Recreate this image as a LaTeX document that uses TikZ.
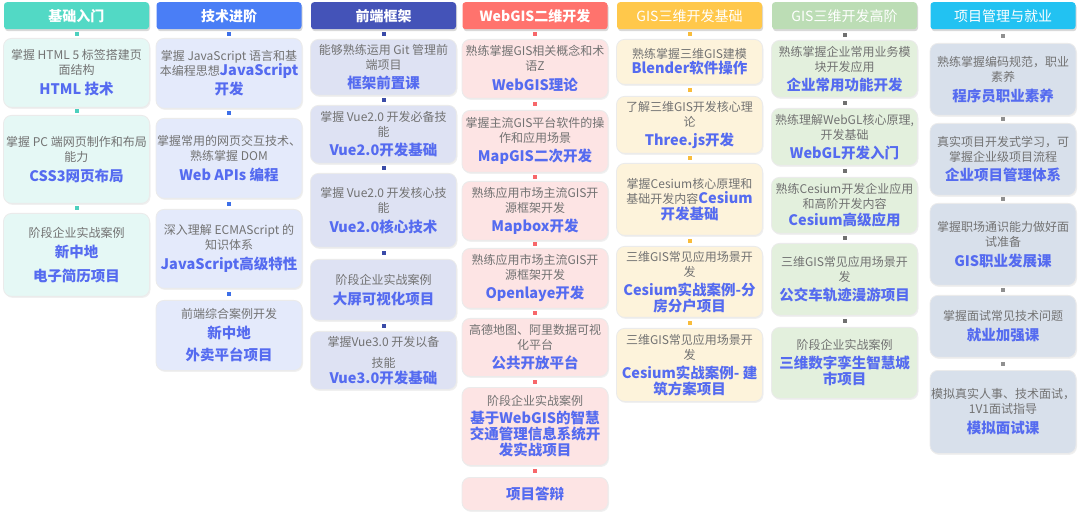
\documentclass[tikz,border=0pt]{standalone}
\usepackage{xcolor}
\usepackage{fontspec}
\usepackage{tikz}
\usetikzlibrary{shadows}
\setmainfont{Noto Sans CJK SC}
\definecolor{c1head}{HTML}{52D9C5}
\definecolor{c1fill}{HTML}{E5F8F5}
\definecolor{c1dot}{HTML}{4DD0BE}
\definecolor{c2head}{HTML}{4A7EF6}
\definecolor{c2fill}{HTML}{E4EAFB}
\definecolor{c2dot}{HTML}{3D6FE8}
\definecolor{c3head}{HTML}{4453B8}
\definecolor{c3fill}{HTML}{DEE2F3}
\definecolor{c3dot}{HTML}{3A4BA8}
\definecolor{c4head}{HTML}{FF736D}
\definecolor{c4fill}{HTML}{FDE4E4}
\definecolor{c4dot}{HTML}{F7676A}
\definecolor{c5head}{HTML}{FFC84B}
\definecolor{c5fill}{HTML}{FDF3DB}
\definecolor{c5dot}{HTML}{F8BC3C}
\definecolor{c6head}{HTML}{BCDDB5}
\definecolor{c6fill}{HTML}{E3F0DD}
\definecolor{c6dot}{HTML}{707070}
\definecolor{c7head}{HTML}{22C2F2}
\definecolor{c7fill}{HTML}{D8E0EB}
\definecolor{c7dot}{HTML}{909090}
\definecolor{hlblue}{HTML}{556BF0}
\definecolor{graytext}{HTML}{727272}
\newcommand{\hl}[1]{{\color{hlblue}\bfseries\fontsize{14.5}{18}\selectfont #1}}

\begin{document}
\begin{tikzpicture}[x=1pt,y=-1pt,
  head/.style={anchor=north, fill=#1, rounded corners=3pt, minimum width=145pt, minimum height=27pt,
    text=white, font=\fontsize{14}{16}\selectfont\bfseries,
    drop shadow={opacity=0.3, shadow xshift=1pt, shadow yshift=-2pt}},
  item/.style={anchor=north, fill=#1, draw=black!8, line width=0.8pt, rounded corners=8pt,
    minimum width=146pt, inner xsep=1pt, inner ysep=3pt, align=center,
    text=graytext, font=\fontsize{12}{15}\selectfont,
    drop shadow={opacity=0.12, shadow xshift=1pt, shadow yshift=-1.5pt}},
  dotmark/.style={fill=#1, rectangle, minimum size=4pt, inner sep=0pt},
  link/.style={draw=none}]
\useasboundingbox (0,0) rectangle (1080,513);

% 基础入门
\node[head=c1head] (c1h) at (76.5,2) {基础入门};
\node[item=c1fill, minimum height=69pt] (c1a) at (76.5,38) {掌握 HTML 5 标签搭建页\\面结构\\[5pt]\hl{HTML 技术}};
\node[item=c1fill, minimum height=88pt] (c1b) at (76.5,115) {掌握 PC 端网页制作和布局\\能力\\[5pt]\hl{CSS3网页布局}};
\node[item=c1fill, minimum height=83pt] (c1c) at (76.5,213) {阶段企业实战案例\\[5pt]\hl{新中地}\\[9pt]\hl{电子简历项目}};
\foreach \a/\b in {c1h/c1a, c1a/c1b, c1b/c1c}
  \path[link] (\a) -- node[dotmark=c1dot] {} (\b);

% 技术进阶
\node[head=c2head] (c2h) at (229,2) {技术进阶};
\node[item=c2fill, minimum height=70pt] (c2a) at (229,38) {掌握 JavaScript 语言和基\\本编程思想\hl{JavaScript}\\[2pt]\hl{开发}};
\node[item=c2fill, minimum height=80pt] (c2b) at (229,118) {掌握常用的网页交互技术、\\熟练掌握 DOM\\[5pt]\hl{Web APIs 编程}};
\node[item=c2fill, minimum height=79pt] (c2c) at (229,209) {深入理解 ECMAScript 的\\知识体系\\[5pt]\hl{JavaScript高级特性}};
\node[item=c2fill, minimum height=70pt] (c2d) at (229,300) {前端综合案例开发\\[5pt]\hl{新中地}\\[7pt]\hl{外卖平台项目}};
\foreach \a/\b in {c2h/c2a, c2a/c2b, c2b/c2c, c2c/c2d}
  \path[link] (\a) -- node[dotmark=c2dot] {} (\b);

% 前端框架
\node[head=c3head] (c3h) at (383.5,2) {前端框架};
\node[item=c3fill, minimum height=56pt] (c3a) at (383.5,39) {能够熟练运用 Git 管理前\\端项目\\[4pt]\hl{框架前置课}};
\node[item=c3fill, minimum height=58pt] (c3b) at (383.5,105) {掌握 Vue2.0 开发必备技\\能\\[4pt]\hl{Vue2.0开发基础}};
\node[item=c3fill, minimum height=74pt] (c3c) at (383.5,173) {掌握 Vue2.0 开发核心技\\能\\[5pt]\hl{Vue2.0核心技术}};
\node[item=c3fill, minimum height=61pt] (c3d) at (383.5,259) {阶段企业实战案例\\[5pt]\hl{大屏可视化项目}};
\node[item=c3fill, minimum height=58pt] (c3e) at (383.5,331) {掌握Vue3.0 开发以备\\[6pt]技能\\[1pt]\hl{Vue3.0开发基础}};
\foreach \a/\b in {c3h/c3a, c3a/c3b, c3b/c3c, c3c/c3d, c3d/c3e}
  \path[link] (\a) -- node[dotmark=c3dot] {} (\b);

% WebGIS二维开发
\node[head=c4head] (c4h) at (535,2) {WebGIS二维开发};
\node[item=c4fill, minimum height=59pt] (c4a) at (535,39) {熟练掌握GIS相关概念和术\\语Z\\[5pt]\hl{WebGIS理论}};
\node[item=c4fill, minimum height=62pt] (c4b) at (535,110) {掌握主流GIS平台软件的操\\作和应用场景\\[4pt]\hl{MapGIS二次开发}};
\node[item=c4fill, minimum height=59pt] (c4c) at (535,181) {熟练应用市场主流GIS开\\源框架开发\\[4pt]\hl{Mapbox开发}};
\node[item=c4fill, minimum height=60pt] (c4d) at (535,248) {熟练应用市场主流GIS开\\源框架开发\\[4pt]\hl{Openlaye开发}};
\node[item=c4fill, minimum height=58pt] (c4e) at (535,318) {高德地图、阿里数据可视\\化平台\\[4pt]\hl{公共开放平台}};
\node[item=c4fill, minimum height=78pt] (c4f) at (535,387) {阶段企业实战案例\\[3pt]\hl{基于WebGIS的智慧}\\[1pt]\hl{交通管理信息系统开}\\[1pt]\hl{发实战项目}};
\node[item=c4fill, minimum height=33pt] (c4g) at (535,477) {\hl{项目答辩}};
\foreach \a/\b in {c4h/c4a, c4a/c4b, c4b/c4c, c4c/c4d, c4d/c4e, c4e/c4f, c4f/c4g}
  \path[link] (\a) -- node[dotmark=c4dot] {} (\b);

% GIS三维开发基础
\node[head=c5head, font=\fontsize{14}{16}\selectfont] (c5h) at (689.5,2) {GIS三维开发基础};
\node[item=c5fill, minimum height=45pt] (c5a) at (689.5,39) {熟练掌握三维GIS建模\\\hl{Blender软件操作}};
\node[item=c5fill, minimum height=57pt] (c5b) at (689.5,96) {了解三维GIS开发核心理\\论\\[4pt]\hl{Three.js开发}};
\node[item=c5fill, minimum height=72pt] (c5c) at (689.5,163) {掌握Cesium核心原理和\\基础开发内容\hl{Cesium}\\[1pt]\hl{开发基础}};
\node[item=c5fill, minimum height=71pt] (c5d) at (689.5,246) {三维GIS常见应用场景开\\发\\[4pt]\hl{Cesium实战案例-分}\\[1pt]\hl{房分户项目}};
\node[item=c5fill, minimum height=73pt] (c5e) at (689.5,328) {三维GIS常见应用场景开\\发\\[4pt]\hl{Cesium实战案例- 建}\\[1pt]\hl{筑方案项目}};
\foreach \a/\b in {c5h/c5a, c5a/c5b, c5b/c5c, c5c/c5d, c5d/c5e}
  \path[link] (\a) -- node[dotmark=c5dot] {} (\b);

% GIS三维开发高阶
\node[head=c6head, font=\fontsize{14}{16}\selectfont] (c6h) at (844.5,2) {GIS三维开发高阶};
\node[item=c6fill, minimum height=57pt] (c6a) at (844.5,40) {熟练掌握企业常用业务模\\块开发应用\\[4pt]\hl{企业常用功能开发}};
\node[item=c6fill, minimum height=57pt] (c6b) at (844.5,108) {熟练理解WebGL核心原理,\\开发基础\\[4pt]\hl{WebGL开发入门}};
\node[item=c6fill, minimum height=56pt] (c6c) at (844.5,177) {熟练Cesium开发企业应用\\和高阶开发内容\\[2pt]\hl{Cesium高级应用}};
\node[item=c6fill, minimum height=72pt] (c6d) at (844.5,243) {三维GIS常见应用场景开\\发\\[4pt]\hl{公交车轨迹漫游项目}};
\node[item=c6fill, minimum height=71pt] (c6e) at (844.5,327) {阶段企业实战案例\\[4pt]\hl{三维数字孪生智慧城}\\[1pt]\hl{市项目}};
\foreach \a/\b in {c6h/c6a, c6a/c6b, c6b/c6c, c6c/c6d, c6d/c6e}
  \path[link] (\a) -- node[dotmark=c6dot] {} (\b);

% 项目管理与就业
\node[head=c7head, font=\fontsize{14}{16}\selectfont] (c7h) at (1003,2) {项目管理与就业};
\node[item=c7fill, minimum height=72pt] (c7a) at (1003,43) {熟练掌握编码规范，职业\\素养\\[5pt]\hl{程序员职业素养}};
\node[item=c7fill, minimum height=72pt] (c7b) at (1003,123) {真实项目开发式学习，可\\掌握企业级项目流程\\[4pt]\hl{企业项目管理体系}};
\node[item=c7fill, minimum height=82pt] (c7c) at (1003,203) {掌握职场通识能力做好面\\试准备\\[5pt]\hl{GIS职业发展课}};
\node[item=c7fill, minimum height=62pt] (c7d) at (1003,295) {掌握面试常见技术问题\\[5pt]\hl{就业加强课}};
\node[item=c7fill, minimum height=83pt] (c7e) at (1003,370) {模拟真实人事、技术面试，\\1V1面试指导\\[5pt]\hl{模拟面试课}};
\foreach \a/\b in {c7h/c7a, c7a/c7b, c7b/c7c, c7c/c7d, c7d/c7e}
  \path[link] (\a) -- node[dotmark=c7dot] {} (\b);
\end{tikzpicture}
\end{document}
